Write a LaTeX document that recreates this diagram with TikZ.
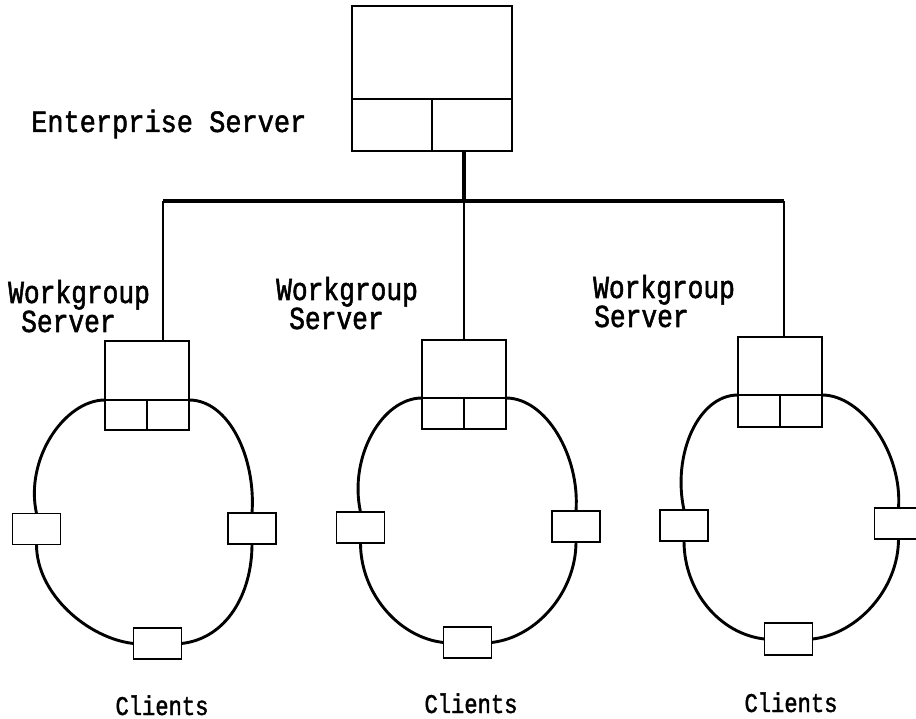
\documentclass[tikz,border=0pt]{standalone}
\usepackage{fontspec}
\newfontfamily\wgfont[FakeStretch=0.82,FakeBold=1.6]{Liberation Mono}
\newfontfamily\entfont[FakeStretch=0.87,FakeBold=1.6]{Liberation Mono}
\newfontfamily\clfont[FakeStretch=0.82,FakeBold=1.6]{Liberation Mono}

\begin{document}
\begin{tikzpicture}[x=1pt,y=-1pt,
  box/.style={draw, line width=1.5pt, fill=white, inner sep=0pt, outer sep=0pt},
  half/.style={box, minimum width=42pt, minimum height=31pt},
  client/.style={box, minimum width=48pt, minimum height=31pt},
  wsbox/.style={box, minimum width=84pt, minimum height=58pt},
  ring/.style={line width=2.9pt},
  bus/.style={line width=3.4pt},
  drop/.style={line width=2.3pt},
  wglbl/.style={inner sep=0pt, anchor=base west, font=\wgfont\fontsize{32}{38}\selectfont},
  entlbl/.style={inner sep=0pt, anchor=base west, font=\entfont\fontsize{31}{37}\selectfont},
  cllbl/.style={inner sep=0pt, anchor=base, font=\clfont\fontsize{27}{32}\selectfont}
]
\useasboundingbox (0,0) rectangle (916,719);
\clip (0,0) rectangle (916,719);

% enterprise server
\node[box, minimum width=160pt, minimum height=93pt] (ent) at (432,52.5) {};
\node[box, minimum width=80pt, minimum height=52pt] (entL) at (392,125) {};
\node[box, minimum width=80pt, minimum height=52pt] (entR) at (472,125) {};
\node[entlbl] (entname) at (31,132) {Enterprise Server};

% workgroup servers
\node[wsbox, minimum height=59pt] (ws1) at (147,370.5) {};
\node[half, minimum height=30pt] (wsL1) at (126,415) {};
\node[half, minimum height=30pt] (wsR1) at (168,415) {};
\node[wsbox] (ws2) at (464,369) {};
\node[half] (wsL2) at (443,413.5) {};
\node[half] (wsR2) at (485,413.5) {};
\node[wsbox] (ws3) at (780,366) {};
\node[half, minimum height=32pt] (wsL3) at (759,411) {};
\node[half, minimum height=32pt] (wsR3) at (801,411) {};

\node[wglbl] (wg1a) at (8,303) {Workgroup};
\node[wglbl] (wg1b) at (21,332) {Server};
\node[wglbl] (wg2a) at (276,300) {Workgroup};
\node[wglbl] (wg2b) at (289,329) {Server};
\node[wglbl] (wg3a) at (593,298) {Workgroup};
\node[wglbl] (wg3b) at (594,327) {Server};

% clients
\node[client] (cl1) at (36.5,529) {};
\node[client] (cr1) at (252,528.5) {};
\node[client] (cb1) at (157.5,643.5) {};
\node[client] (cl2) at (360.5,527.5) {};
\node[client] (cr2) at (576,526.5) {};
\node[client] (cb2) at (467.5,642.5) {};
\node[client] (cl3) at (684,525.5) {};
\node[client] (cr3) at (898.5,523.5) {};
\node[client, minimum height=32pt] (cb3) at (788.5,639) {};

\node[cllbl] (cln1) at (162,715) {Clients};
\node[cllbl] (cln2) at (471,713) {Clients};
\node[cllbl] (cln3) at (791,712) {Clients};

% backbone
\coordinate (j1) at (163,201);
\coordinate (j3) at (784,201);
\coordinate (j2) at (ws2.north |- j1);
\draw[bus] (j1) -- (j3);
\draw[bus] (entR.south -| j2) -- (j2);
\draw[drop] (j1) -- (j1 |- ws1.north);
\draw[drop] (j2) -- (ws2.north);
\draw[drop] (j3) -- (j3 |- ws3.north);

% token rings
\foreach \i in {1,2,3}{
  \draw[ring] (wsL\i.north west) .. controls +(-40,0) and +(-12,-55) .. (cl\i.north)
              (cl\i.south) .. controls +(0,50) and +(-45,-5) .. (cb\i.west)
              (cb\i.east) .. controls +(45,-5) and +(0,50) .. (cr\i.south)
              (cr\i.north) .. controls +(4,-55) and +(40,0) .. (wsR\i.north east);
}
\end{tikzpicture}
\end{document}
